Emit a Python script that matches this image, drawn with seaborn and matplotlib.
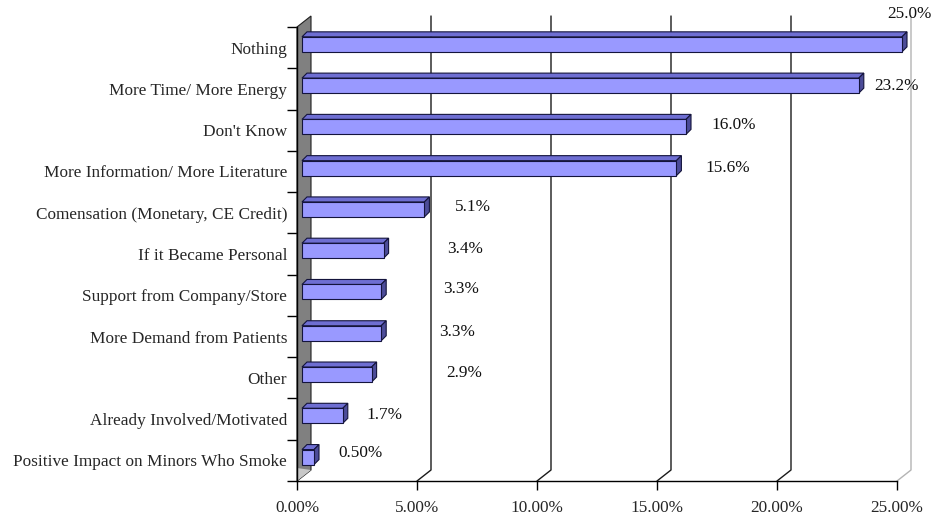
import matplotlib
matplotlib.use("Agg")
import matplotlib.pyplot as plt
from matplotlib.patches import Polygon
import seaborn as sns

# --- data ---------------------------------------------------------------
categories = [
    "Nothing",
    "More Time/ More Energy",
    "Don't Know",
    "More Information/ More Literature",
    "Comensation (Monetary, CE Credit)",
    "If it Became Personal",
    "Support from Company/Store",
    "More Demand from Patients",
    "Other",
    "Already Involved/Motivated",
    "Positive Impact on Minors Who Smoke",
]
values = [25.0, 23.2, 16.0, 15.6, 5.1, 3.4, 3.3, 3.3, 2.9, 1.7, 0.5]
value_labels = ["25.0%", "23.2%", "16.0%", "15.6%", "5.1%", "3.4%",
                "3.3%", "3.3%", "2.9%", "1.7%", "0.50%"]
x_ticks = [0, 5, 10, 15, 20, 25]
x_tick_labels = ["0.00%", "5.00%", "10.00%", "15.00%", "20.00%", "25.00%"]

# where each data label sits (x in percent, y relative to its category)
label_x = [25.5, 24.96, 18.2, 17.96, 7.33, 7.0, 6.83, 6.67, 6.96, 3.63, 2.63]
label_dy = [-0.81, -0.07, -0.12, -0.08, -0.14, -0.12, -0.15, -0.11, -0.12, -0.10, -0.18]

# --- style --------------------------------------------------------------
sns.set_style("white")
plt.rcParams["font.family"] = ["Liberation Serif", "DejaVu Serif"]
FS = 12.4

W, H = 934, 521
fig = plt.figure(figsize=(W / 100, H / 100), dpi=100)
ax = fig.add_axes([297 / W, 40 / H, 600 / W, 454 / H])

n = len(categories)
xmax = 25
px_x = 600 / xmax          # pixels per percent
px_y = 454 / n             # pixels per category

def off(dx_px, dy_px):
    """pixel offset (right, up) -> data offset"""
    return dx_px / px_x, -dy_px / px_y

# back wall depth, bar position inside the depth, bar thickness
wall_dx, wall_dy = off(14, 11)
bar_dx, bar_dy = off(5, 3.3)
deep_dx, deep_dy = off(5, 5)

front_col = "#9999FF"
top_col = "#6E6ED2"
side_col = "#4C4C99"
edge_col = "#14143C"

sns.barplot(x=values, y=categories, orient="h", width=15 / px_y,
            color=front_col, saturation=1, edgecolor=edge_col,
            linewidth=0.8, ax=ax, zorder=4)
bars = list(ax.patches)

ax.set_xlim(0, xmax)
ax.set_ylim(n - 0.5, -0.5)

# left wall
ax.add_patch(Polygon([(0, -0.5), (0, n - 0.5), (wall_dx, n - 0.5 + wall_dy),
                      (wall_dx, -0.5 + wall_dy)], closed=True,
                     facecolor="#808080", edgecolor="#202020", lw=0.8,
                     zorder=1, clip_on=False))
ax.add_patch(Polygon([(0, n - 0.5), (0, n - 0.5 - 13 / px_y),
                      (wall_dx, n - 0.5 + wall_dy)], closed=True,
                     facecolor="#C8C8C8", edgecolor="none", zorder=1.1,
                     clip_on=False))

# back-wall gridlines with their floor diagonals
for t in x_ticks[1:]:
    c = "#B4B4B4" if t == xmax else "#1a1a1a"
    ax.plot([t + wall_dx, t + wall_dx, t],
            [-0.5 + wall_dy, n - 0.5 + wall_dy, n - 0.5],
            color=c, lw=1.0, zorder=0.9, clip_on=False)

# 3-D bars: shift front faces, add top and side faces
for p in bars:
    p.set_x(p.get_x() + bar_dx)
    p.set_y(p.get_y() + bar_dy)
    p.set_clip_on(False)
    x0 = p.get_x()
    x1 = x0 + p.get_width()
    y_top = p.get_y()
    y_bot = y_top + p.get_height()
    ax.add_patch(Polygon([(x0, y_top), (x1, y_top),
                          (x1 + deep_dx, y_top + deep_dy),
                          (x0 + deep_dx, y_top + deep_dy)], closed=True,
                         facecolor=top_col, edgecolor=edge_col, lw=0.8,
                         zorder=3, clip_on=False))
    ax.add_patch(Polygon([(x1, y_top), (x1, y_bot),
                          (x1 + deep_dx, y_bot + deep_dy),
                          (x1 + deep_dx, y_top + deep_dy)], closed=True,
                         facecolor=side_col, edgecolor=edge_col, lw=0.8,
                         zorder=3, clip_on=False))

# data labels
for i, txt in enumerate(value_labels):
    ax.text(label_x[i], i + label_dy[i], txt, ha="center", va="center",
            fontsize=FS, color="#111111", zorder=6, clip_on=False)

# axes
for s in ("top", "right"):
    ax.spines[s].set_visible(False)
for s in ("left", "bottom"):
    ax.spines[s].set_color("black")
    ax.spines[s].set_linewidth(1.0)
    ax.spines[s].set_zorder(5)

ax.set_xticks(x_ticks)
ax.set_xticklabels(x_tick_labels, fontsize=FS)
ax.tick_params(axis="x", length=6.5, width=1.0, color="black", pad=7.5,
               direction="out", bottom=True)
ax.get_xticklines()[-2].set_color("#606060")

ax.set_yticks(range(n))
ax.set_yticklabels(categories, fontsize=FS)
ax.set_yticks([i - 0.5 for i in range(n + 1)], minor=True)
ax.tick_params(axis="y", which="major", length=0, pad=7.2, left=True)
ax.tick_params(axis="y", which="minor", length=7.2, width=1.0, color="black",
               direction="out", left=True)
ax.set_xlabel("")
ax.set_ylabel("")
ax.grid(False)

fig.savefig("out.png", dpi=100)
